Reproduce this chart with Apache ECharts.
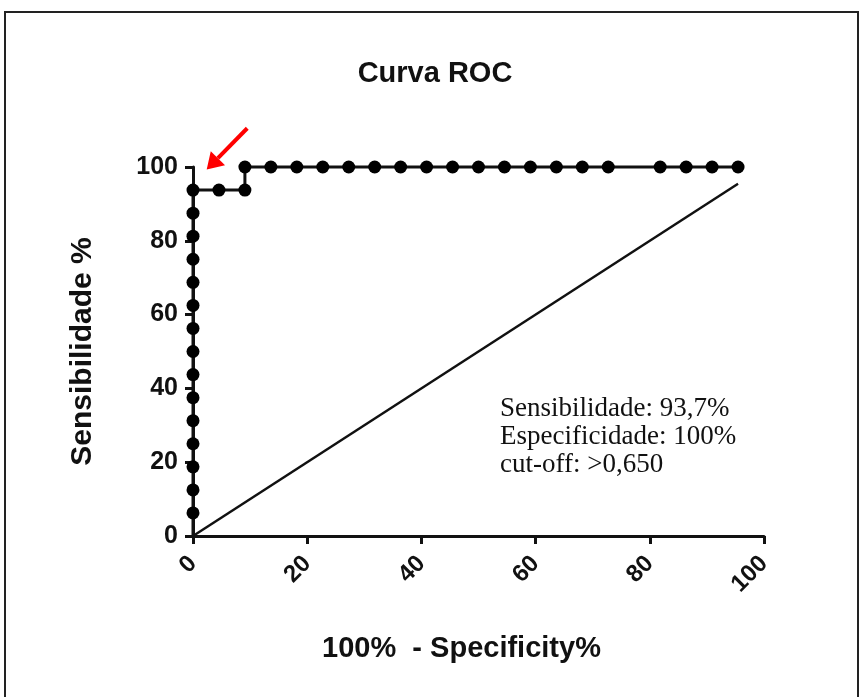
<!doctype html>
<html lang="pt">
<head>
  <meta charset="utf-8">
  <title>Curva ROC</title>
  <script src="https://cdn.jsdelivr.net/npm/echarts@6/dist/echarts.min.js"></script>
  <style>
    html, body { margin: 0; padding: 0; background: #fff; }
    #chart { width: 862px; height: 697px; }
  </style>
</head>
<body>
  <div id="chart"></div>
  <script>
    // 100% - especificidade (passos de 1/22) e sensibilidade (passos de 1/16)
    const fpr = [0, 0, 0, 0, 0, 0, 0, 0, 0, 0, 0, 0, 0, 0, 0, 0,
      4.545, 9.091, 9.091, 13.636, 18.182, 22.727, 27.273, 31.818, 36.364,
      40.909, 45.455, 50.0, 54.545, 59.091, 63.636, 68.182, 72.727,
      81.818, 86.364, 90.909, 95.455];
    const tpr = [0, 6.25, 12.5, 18.75, 25, 31.25, 37.5, 43.75, 50, 56.25,
      62.5, 68.75, 75, 81.25, 87.5, 93.75,
      93.75, 93.75, 100, 100, 100, 100, 100, 100, 100,
      100, 100, 100, 100, 100, 100, 100, 100,
      100, 100, 100, 100];
    const refLine = [[0, 0], [95.455, 95.455]];
    const xTicks = [0, 20, 40, 60, 80, 100];
    const yTicks = [0, 20, 40, 60, 80, 100];
    const noteLines = ['Sensibilidade: 93,7%', 'Especificidade: 100%', 'cut-off: >0,650'];
    const arrowTail = [9.5, 110.5];   // seta vermelha (coordenadas do gráfico)
    const arrowHead = [2.4, 99.3];

    const bold = 'Liberation Sans, Arial, sans-serif';

    const rocData = fpr.map((x, i) => {
      const item = { value: [x, tpr[i]] };
      if (i === 0) item.symbol = 'none';
      return item;
    });

    const chart = echarts.init(document.getElementById('chart'));
    const option = {
      animation: false,
      backgroundColor: '#fff',
      title: {
        text: 'Curva ROC',
        left: 430,
        top: 54,
        textAlign: 'center',
        textStyle: { fontFamily: bold, fontWeight: 'bold', fontSize: 29, color: '#111' }
      },
      grid: { left: 193, right: 98, top: 167, bottom: 161 },
      xAxis: {
        type: 'value',
        min: xTicks[0],
        max: xTicks[xTicks.length - 1],
        interval: 20,
        name: '100%  - Specificity%',
        nameLocation: 'middle',
        nameGap: 98,
        nameTextStyle: {
          fontFamily: bold, fontWeight: 'bold', fontSize: 29, color: '#111',
          padding: [0, 34, 0, 0]
        },
        axisLine: { onZero: false, lineStyle: { color: '#111', width: 3 } },
        axisTick: { show: true, inside: false, length: 8, lineStyle: { color: '#111', width: 3 } },
        axisLabel: {
          rotate: 45,
          margin: 24,
          fontFamily: bold,
          fontWeight: 'bold',
          fontSize: 24,
          color: '#111'
        },
        splitLine: { show: false }
      },
      yAxis: {
        type: 'value',
        min: yTicks[0],
        max: yTicks[yTicks.length - 1],
        interval: 20,
        name: 'Sensibilidade %',
        nameLocation: 'middle',
        nameGap: 95,
        nameTextStyle: { fontFamily: bold, fontWeight: 'bold', fontSize: 30, color: '#111' },
        axisLine: { show: true, onZero: false, lineStyle: { color: '#111', width: 3 } },
        axisTick: { show: true, inside: false, length: 8, lineStyle: { color: '#111', width: 3 } },
        axisLabel: {
          margin: 15,
          fontFamily: bold,
          fontWeight: 'bold',
          fontSize: 25,
          color: '#111'
        },
        splitLine: { show: false }
      },
      series: [
        {
          type: 'line',
          data: refLine,
          symbol: 'none',
          lineStyle: { color: '#111', width: 2.5 },
          z: 2
        },
        {
          type: 'line',
          data: rocData,
          symbol: 'circle',
          symbolSize: 13,
          itemStyle: { color: '#000' },
          lineStyle: { color: '#111', width: 3 },
          clip: false,
          z: 3
        }
      ]
    };
    chart.setOption(option);

    // moldura, texto e seta
    const tail = chart.convertToPixel({ gridIndex: 0 }, arrowTail);
    const head = chart.convertToPixel({ gridIndex: 0 }, arrowHead);
    const dx = head[0] - tail[0], dy = head[1] - tail[1];
    const len = Math.sqrt(dx * dx + dy * dy);
    const ux = dx / len, uy = dy / len;
    const hl = 16, hw = 10;
    const baseX = head[0] - ux * hl, baseY = head[1] - uy * hl;

    chart.setOption({
      graphic: [
        {
          type: 'rect',
          shape: { x: 5, y: 12, width: 853, height: 700 },
          style: { fill: 'none', stroke: '#222', lineWidth: 2 },
          silent: true
        },
        {
          type: 'text',
          left: 500,
          top: 395,
          style: {
            text: noteLines.join('\n'),
            font: '27px "Liberation Serif", "Times New Roman", serif',
            lineHeight: 28,
            fill: '#111'
          }
        },
        {
          type: 'line',
          shape: { x1: tail[0], y1: tail[1], x2: baseX, y2: baseY },
          style: { stroke: '#f00', lineWidth: 4 }
        },
        {
          type: 'polygon',
          shape: {
            points: [
              head,
              [baseX - uy * hw, baseY + ux * hw],
              [baseX + uy * hw, baseY - ux * hw]
            ]
          },
          style: { fill: '#f00' }
        }
      ]
    });
  </script>
</body>
</html>
